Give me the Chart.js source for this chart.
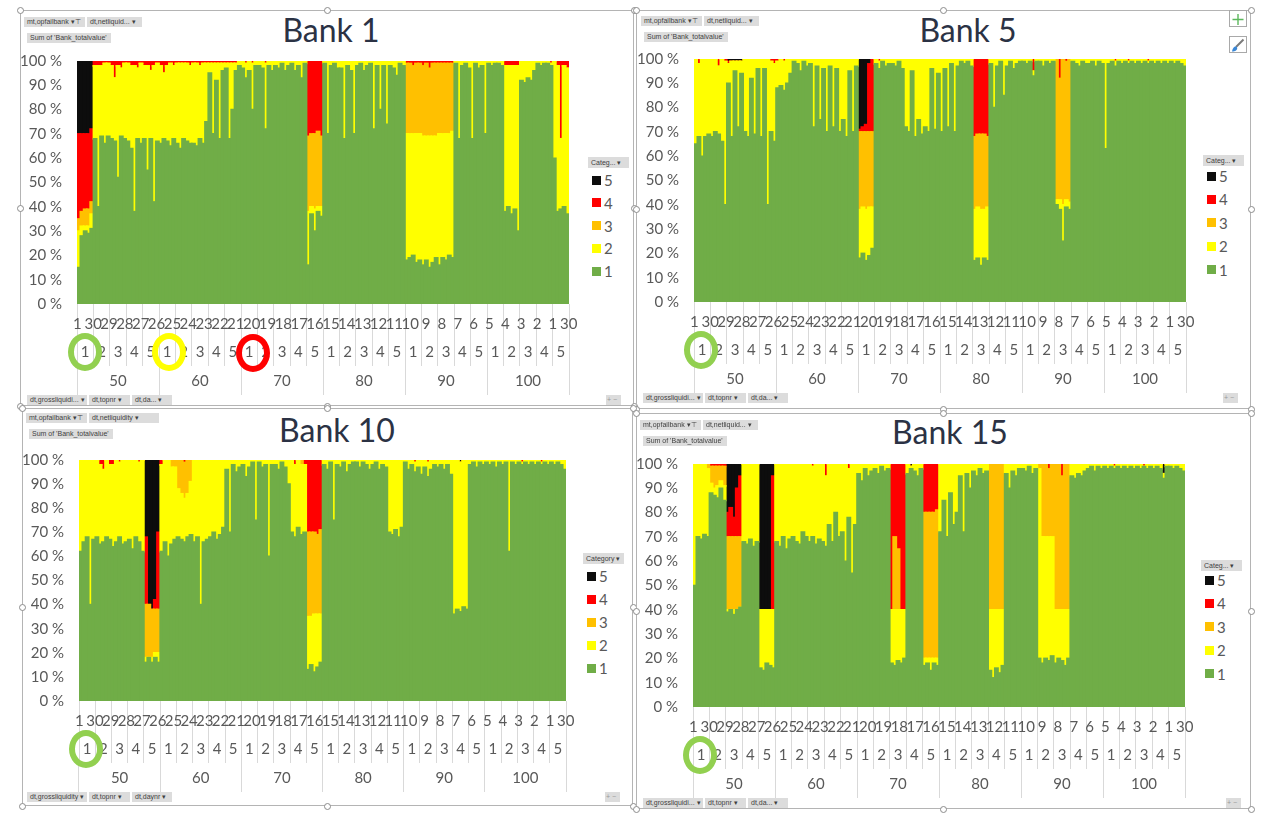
<!DOCTYPE html>
<html>
<head>
<meta charset="utf-8">
<script src="https://cdn.jsdelivr.net/npm/chart.js@4.4.1/dist/chart.umd.min.js"></script>
<style>
  html,body{margin:0;padding:0;background:#fff;}
  body{width:1261px;height:813px;position:relative;overflow:hidden;font-family:Lato,"Open Sans",sans-serif;}
  .frame{position:absolute;border:1px solid #b4b4b4;box-sizing:border-box;}
  .handle{position:absolute;width:7px;height:7px;border-radius:50%;background:#fff;border:1px solid #8c8c8c;box-sizing:border-box;}
  .title{position:absolute;width:240px;height:40px;line-height:40px;text-align:center;font-size:32px;color:#2b3244;font-family:Lato,sans-serif;}
  .btn{position:absolute;height:10px;line-height:10px;background:#dcdcdc;color:#404040;font-family:"Liberation Sans",Arial,sans-serif;font-size:7px;padding:0 3px;white-space:nowrap;box-sizing:border-box;}
  .cv{position:absolute;}
  .lg-item{position:absolute;height:18px;line-height:18px;font-size:15px;color:#595959;font-family:Lato,sans-serif;}
  .lg-box{position:absolute;width:9px;height:9px;}
  .ring{position:absolute;border-radius:50%;box-sizing:border-box;}
  .icon{position:absolute;width:18px;height:17px;border:1px solid #a9a9a9;background:#fff;box-sizing:border-box;}
</style>
</head>
<body>
<script>
// ---------------- data ----------------
const seriesNames  = ['1','2','3','4','5'];
const seriesColors = ['#70AD47','#FFFF00','#FFC000','#FF0000','#0D0D0D'];
const outerLabels  = ['50','60','70','80','90','100'];
const midLabels    = ['1','2','3','4','5'];
const dayLabels    = ['1','2','3','4','5','6','7','8','9','10','11','12','13','14','15','16','17','18','19','20','21','22','23','24','25','26','27','28','29','30'];
const barsPerGroup = 5;   // sampled bars read per middle-level group
const dayLabelStep = 29;  // every 29th day label is shown (as in the reference)

// Bank 1 (percent per sampled bar)
const b1Green = [
 15,28,30,29,31, 68,40,69,66,69, 68,67,52,69,68, 67,64,38,68,66, 68,55,68,42,67,
 66,68,67,65,68, 66,64,68,67,66, 66,65,68,66,75, 95,70,92,68,96, 97,68,80,96,98,
 97,93,96,80,98, 98,97,72,98,96, 98,97,99,96,98, 99,96,98,93,99, 16,37,30,38,36,
 99,70,98,99,97, 97,68,98,96,70, 98,99,96,98,99, 72,98,80,98,74, 98,97,94,99,98,
 18,19,20,17,18, 16,18,15,17,19, 16,19,18,20,19, 99,68,98,99,97, 68,99,97,98,70,
 99,98,99,99,98, 38,40,37,39,30, 92,91,93,92,96, 99,98,99,99,98, 60,38,39,40,37];
const b1Yellow = [
 15,4,2,3,6, 30,58,29,33,30, 30,26,46,28,31, 32,34,60,29,33, 30,43,28,56,32,
 32,27,31,34,30, 33,35,31,32,32, 33,34,30,33,24, 4,29,7,31,3, 2,31,19,3,2,
 3,6,4,19,2, 2,3,27,2,4, 2,3,1,4,2, 1,4,2,7,1, 22,3,9,2,4,
 1,30,2,1,3, 3,32,2,4,30, 2,1,4,2,1, 28,2,20,2,26, 2,3,6,1,2,
 52,51,50,53,52, 53,51,54,52,50, 54,51,52,50,52, 1,32,2,1,3, 32,1,3,2,30,
 1,2,1,1,2, 60,58,61,59,68, 8,9,7,8,4, 1,2,1,1,1, 40,60,29,58,60];
const b1Orange = [
 5,6,7,7,5, 0,0,0,0,0, 0,0,0,0,0, 0,0,0,0,0, 0,0,0,0,0,
 0,0,0,0,0, 0,0,0,0,0, 0,0,0,0,0, 0,0,0,0,0, 0,0,0,0,0,
 0,0,0,0,0, 0,0,0,0,0, 0,0,0,0,0, 0,0,0,0,0, 31,30,31,31,29,
 0,0,0,0,0, 0,0,0,0,0, 0,0,0,0,0, 0,0,0,0,0, 0,0,0,0,0,
 29,29,28,29,29, 29,30,28,30,30, 29,29,29,29,28, 0,0,0,0,0, 0,0,0,0,0,
 0,0,0,0,0, 0,0,0,0,0, 0,0,0,0,0, 0,0,0,0,0, 0,0,0,0,0];
const b1Red = [
 35,32,31,31,30, 2,2,2,1,1, 2,7,2,3,1, 1,2,2,3,1, 2,2,4,2,1,
 2,5,2,1,2, 1,1,1,1,2, 1,1,2,1,1, 1,1,1,1,1, 1,1,1,1,0,
 0,1,0,1,0, 0,0,1,0,0, 0,0,0,0,0, 0,0,0,0,0, 31,30,30,29,31,
 0,0,0,0,0, 0,0,0,0,0, 0,0,0,0,0, 0,0,0,0,0, 0,0,0,0,0,
 1,1,2,1,1, 2,1,3,1,1, 1,1,1,1,1, 0,0,0,0,0, 0,0,0,0,0,
 0,0,0,0,0, 2,2,2,2,2, 0,0,0,0,0, 0,0,0,0,1, 0,2,32,2,3];
const b1Black = [
 30,30,30,30,28, 0,0,0,0,0, 0,0,0,0,0, 0,0,0,0,0, 0,0,0,0,0,
 0,0,0,0,0, 0,0,0,0,0, 0,0,0,0,0, 0,0,0,0,0, 0,0,0,0,0,
 0,0,0,0,0, 0,0,0,0,0, 0,0,0,0,0, 0,0,0,0,0, 0,0,0,0,0,
 0,0,0,0,0, 0,0,0,0,0, 0,0,0,0,0, 0,0,0,0,0, 0,0,0,0,0,
 0,0,0,0,0, 0,0,0,0,0, 0,0,0,0,0, 0,0,0,0,0, 0,0,0,0,0,
 0,0,0,0,0, 0,0,0,0,0, 0,0,0,0,0, 0,0,0,0,0, 0,0,0,0,0];

// Bank 5
const b5Green = [
 65,68,60,68,69, 68,70,69,66,40, 90,68,95,72,94, 70,68,92,69,96, 68,96,40,70,66,
 88,89,87,90,94, 99,98,95,99,97, 98,72,97,75,96, 70,97,72,96,70, 75,68,95,70,97,
 18,20,17,19,22, 98,96,99,97,98, 98,97,99,96,72, 70,95,68,75,69, 72,70,96,71,94,
 70,96,72,98,70, 97,99,98,99,97, 17,18,15,18,17, 98,80,97,99,85, 97,99,96,98,99,
 99,98,99,93,99, 99,97,99,98,99, 40,38,25,39,38, 99,98,97,99,98, 98,99,97,99,98,
 63,98,99,97,99, 98,99,98,99,98, 99,98,99,98,99, 98,99,98,99,98, 99,98,99,98,97];
const b5Yellow = [
 35,30,40,32,31, 32,30,28,34,59, 8,31,4,27,5, 30,32,8,31,4, 32,4,60,29,32,
 11,11,12,10,6, 1,2,5,1,3, 2,28,3,25,4, 30,3,28,4,30, 25,32,5,30,3,
 20,19,21,20,17, 2,3,1,3,2, 2,3,1,4,28, 30,5,32,25,31, 28,30,4,29,6,
 30,4,28,2,30, 3,1,2,1,3, 21,21,23,20,22, 2,20,3,1,15, 3,1,4,2,1,
 1,2,1,2,1, 1,3,1,2,1, 2,4,15,3,3, 1,2,3,1,2, 2,1,3,1,2,
 37,2,1,2,1, 2,1,1,1,2, 1,2,1,1,1, 2,1,2,1,2, 1,2,1,2,3];
const b5Orange = [
 0,0,0,0,0, 0,0,0,0,0, 0,0,0,0,0, 0,0,0,0,0, 0,0,0,0,0,
 0,0,0,0,0, 0,0,0,0,0, 0,0,0,0,0, 0,0,0,0,0, 0,0,0,0,0,
 32,31,32,31,31, 0,0,0,0,0, 0,0,0,0,0, 0,0,0,0,0, 0,0,0,0,0,
 0,0,0,0,0, 0,0,0,0,0, 30,30,31,31,29, 0,0,0,0,0, 0,0,0,0,0,
 0,0,0,0,0, 0,0,0,0,0, 58,50,60,57,59, 0,0,0,0,0, 0,0,0,0,0,
 0,0,0,0,0, 0,0,0,0,0, 0,0,0,0,0, 0,0,0,0,0, 0,0,0,0,0];
const b5Red = [
 0,2,0,0,0, 0,0,3,0,1, 1,0,0,0,0, 0,0,0,0,0, 0,0,0,1,2,
 1,0,1,0,0, 0,0,0,0,0, 0,0,0,0,0, 0,0,0,0,0, 0,0,0,0,0,
 1,2,3,28,30, 0,1,0,0,0, 0,0,0,0,0, 0,0,0,0,0, 0,0,0,0,0,
 0,0,0,0,0, 0,0,0,0,0, 32,31,31,31,32, 0,0,0,0,0, 0,0,0,0,0,
 0,0,0,5,0, 0,0,0,0,0, 0,8,0,1,0, 0,0,0,0,0, 0,0,0,0,0,
 0,0,0,1,0, 0,0,1,0,0, 0,0,0,1,0, 0,0,0,0,0, 0,0,0,0,0];
const b5Black = [
 0,0,0,0,0, 0,0,0,0,0, 1,1,1,1,1, 0,0,0,0,0, 0,0,0,0,0,
 0,0,0,0,0, 0,0,0,0,0, 0,0,0,0,0, 0,0,0,0,0, 0,0,0,0,0,
 29,28,27,2,0, 0,0,0,0,0, 0,0,0,0,0, 0,0,0,0,0, 0,0,0,0,0,
 0,0,0,0,0, 0,0,0,0,0, 0,0,0,0,0, 0,0,0,0,0, 0,0,0,0,0,
 0,0,0,0,0, 0,0,0,0,0, 0,0,0,0,0, 0,0,0,0,0, 0,0,0,0,0,
 0,0,0,0,0, 0,0,0,0,0, 0,0,0,0,0, 0,0,0,0,0, 0,0,0,0,0];

// Bank 10
const b10Green = [
 62,66,68,40,67, 68,65,66,68,67, 64,66,68,65,66, 67,63,68,66,62, 16,18,16,18,16,
 62,66,60,65,67, 68,67,66,68,69, 66,68,40,66,67, 68,70,67,69,72, 96,70,98,95,97,
 98,93,97,99,75, 99,97,98,60,98, 98,96,99,97,90, 70,68,72,69,70, 13,15,12,14,16,
 98,96,99,75,98, 97,99,95,98,99, 99,97,99,98,96, 98,99,96,98,97, 70,69,71,68,72,
 99,96,98,95,97, 94,97,93,96,98, 97,98,96,98,94, 36,38,37,39,38, 98,99,97,99,98,
 99,98,99,97,99, 98,99,62,99,98, 99,98,99,98,99, 98,99,98,99,98, 99,98,99,98,96];
const b10Yellow = [
 38,34,32,60,33, 32,33,30,32,31, 34,34,31,35,34, 33,37,32,33,38, 2,0,2,2,4,
 36,34,40,32,30, 20,19,18,18,22, 34,32,60,34,33, 32,30,33,31,28, 4,30,2,5,3,
 2,7,3,1,25, 1,3,2,40,2, 2,4,1,3,10, 30,30,28,29,28, 22,20,24,22,20,
 2,4,1,25,2, 3,1,5,2,1, 1,3,1,2,4, 2,1,4,2,3, 30,31,29,32,28,
 1,4,2,4,3, 6,3,6,4,2, 3,2,4,2,6, 64,62,62,61,62, 2,1,3,1,2,
 1,2,1,3,1, 2,1,38,1,2, 1,1,1,2,1, 2,1,1,1,2, 1,2,1,2,4];
const b10Orange = [
 0,0,0,0,0, 0,0,0,0,0, 0,0,0,0,0, 0,0,0,0,0, 22,22,20,18,18,
 0,0,0,3,3, 12,14,15,14,9, 0,0,0,0,0, 0,0,0,0,0, 0,0,0,0,0,
 0,0,0,0,0, 0,0,0,0,0, 0,0,0,0,0, 0,0,0,2,0, 35,35,34,33,35,
 0,0,0,0,0, 0,0,0,0,0, 0,0,0,0,0, 0,0,0,0,0, 0,0,0,0,0,
 0,0,0,0,0, 0,0,0,0,0, 0,0,0,0,0, 0,0,0,0,0, 0,0,0,0,0,
 0,0,0,0,0, 0,0,0,0,0, 0,0,0,0,0, 0,0,0,0,0, 0,0,0,0,0];
const b10Red = [
 0,0,0,0,0, 0,2,4,0,2, 2,0,1,0,0, 0,0,0,1,0, 28,0,0,4,32,
 2,0,0,0,0, 0,0,1,0,0, 0,0,0,0,0, 0,0,0,0,0, 0,0,0,0,0,
 0,0,0,0,0, 0,0,0,0,0, 0,0,0,0,0, 0,2,0,0,2, 30,30,30,31,29,
 0,0,0,0,0, 0,0,0,0,0, 0,0,0,0,0, 0,0,0,0,0, 0,0,0,0,0,
 0,0,0,1,0, 0,0,1,0,0, 0,0,0,0,0, 0,0,0,0,0, 0,0,0,0,0,
 0,0,0,0,0, 0,0,0,0,0, 0,1,0,0,0, 0,0,1,0,0, 0,0,0,0,0];
const b10Black = [
 0,0,0,0,0, 0,0,0,0,0, 0,0,0,0,0, 0,0,0,0,0, 32,60,62,58,30,
 0,0,0,0,0, 0,0,0,0,0, 0,0,0,0,0, 0,0,0,0,0, 0,0,0,0,0,
 0,0,0,0,0, 0,0,0,0,0, 0,0,0,0,0, 0,0,0,0,0, 0,0,0,0,0,
 0,0,0,0,0, 0,0,0,0,0, 0,0,0,0,0, 0,0,0,0,0, 0,0,0,0,0,
 0,0,0,0,0, 0,0,0,0,0, 0,0,0,0,0, 0,0,1,0,0, 0,0,0,0,0,
 0,0,0,0,0, 0,0,0,0,0, 0,0,0,0,0, 0,0,0,0,0, 0,0,0,0,0];

// Bank 15
const b15Green = [
 50,70,69,71,70, 88,87,86,90,85, 39,40,38,40,41, 68,67,69,66,68, 16,15,18,17,16,
 68,66,70,65,69, 70,68,67,72,70, 68,70,67,69,68, 66,75,68,80,70, 72,60,78,55,75,
 96,93,98,95,97, 98,96,99,97,98, 18,17,19,18,20, 96,98,97,95,98, 17,18,15,18,17,
 72,85,70,88,75, 80,95,72,96,90, 97,95,98,96,97, 15,12,16,14,17, 96,90,97,95,98,
 98,97,99,96,98, 20,18,20,19,21, 18,20,19,17,20, 95,94,96,95,97, 98,99,97,99,98,
 99,98,99,98,99, 98,99,98,99,98, 99,98,99,98,99, 98,99,98,94,99, 99,98,99,98,97];
const b15Yellow = [
 50,30,31,29,28, 4,3,5,3,6, 1,0,2,0,0, 32,33,31,34,32, 24,25,22,23,24,
 32,34,30,35,31, 30,32,33,28,30, 32,29,33,31,32, 29,25,32,20,30, 28,40,20,45,25,
 4,7,2,5,3, 2,4,1,3,2, 22,23,21,22,20, 4,1,3,5,2, 3,2,5,2,3,
 28,15,30,12,25, 20,5,28,4,10, 3,5,2,4,3, 25,28,24,26,23, 4,10,3,5,2,
 2,3,1,4,2, 78,52,50,51,49, 22,20,21,23,20, 5,6,4,5,3, 2,1,3,1,2,
 1,2,1,1,1, 2,1,2,1,2, 1,2,0,2,1, 2,1,2,2,1, 1,2,1,2,3];
const b15Orange = [
 0,0,0,0,2, 7,9,8,6,8, 30,30,30,30,29, 0,0,0,0,0, 0,0,0,0,0,
 0,0,0,0,0, 0,0,0,0,0, 0,0,0,0,0, 0,0,0,0,0, 0,0,0,0,0,
 0,0,0,0,0, 0,0,0,0,0, 0,30,25,0,0, 0,0,0,0,0, 60,60,60,60,61,
 0,0,0,0,0, 0,0,0,0,0, 0,0,0,0,0, 60,60,60,60,60, 0,0,0,0,0,
 0,0,0,0,0, 2,30,30,28,30, 60,60,55,60,60, 0,0,0,0,0, 0,0,0,0,0,
 0,0,0,0,0, 0,0,0,0,0, 0,0,0,0,0, 0,0,0,0,0, 0,0,0,0,0];
const b15Red = [
 0,0,0,0,0, 1,1,1,1,1, 10,12,8,20,25, 0,0,0,0,0, 0,0,0,0,55,
 0,0,0,0,0, 0,0,0,0,0, 0,1,0,0,0, 5,0,0,0,0, 0,0,2,0,0,
 0,0,0,0,0, 0,0,0,0,0, 60,30,35,60,60, 0,0,0,0,0, 20,20,20,20,19,
 0,0,0,0,0, 0,0,0,0,0, 0,0,0,0,0, 0,0,0,0,0, 0,0,0,0,0,
 0,0,0,0,0, 0,0,0,2,0, 0,0,5,0,0, 0,0,0,0,0, 0,0,0,0,0,
 0,0,0,1,0, 0,0,0,0,0, 0,0,1,0,0, 0,0,0,0,0, 0,0,0,0,0];
const b15Black = [
 0,0,0,0,0, 0,0,0,0,0, 20,18,22,10,5, 0,0,0,0,0, 60,60,60,60,5,
 0,0,0,0,0, 0,0,0,0,0, 0,0,0,0,0, 0,0,0,0,0, 0,0,0,0,0,
 0,0,0,0,0, 0,0,0,0,0, 0,0,0,0,0, 0,1,0,0,0, 0,0,0,0,0,
 0,0,0,0,0, 0,0,0,0,0, 0,0,0,0,0, 0,0,0,0,0, 0,0,0,0,0,
 0,0,0,0,0, 0,0,0,0,0, 0,0,0,0,0, 0,0,0,0,0, 0,0,0,0,0,
 0,0,0,0,0, 0,0,0,0,0, 0,0,0,0,0, 0,0,0,4,0, 0,0,0,0,0];

// ---------------- layout (positions / styles only) ----------------
const panels = [
  {title:'Bank 1',  series:[b1Green,b1Yellow,b1Orange,b1Red,b1Black],
   frame:[20,10,614,396], plot:[77,57,569,304], titleC:[331,30],
   topBtn:[24,17], botBtn:[27,395], pm:[606,395],
   legend:{x:588,y:157,first:180,step:22.8,btn:'Categ...'},
   rings:[[85,352,'#92D050'],[169,352,'#FFFF00'],[253,353,'#FF0000']]},
  {title:'Bank 5',  series:[b5Green,b5Yellow,b5Orange,b5Red,b5Black],
   frame:[636,10,615,399], plot:[694,55,1186,302], titleC:[968,30],
   topBtn:[641,16], botBtn:[643,393], pm:[1223,393],
   legend:{x:1203,y:155,first:176,step:23.4,btn:'Categ...'},
   rings:[[701,350,'#92D050']], icons:true},
  {title:'Bank 10', series:[b10Green,b10Yellow,b10Orange,b10Red,b10Black],
   frame:[22,408,611,398], plot:[79,456,566,701], titleC:[337,430],
   topBtn:[26,413], botBtn:[27,792], pm:[605,792],
   legend:{x:583,y:553,first:576,step:23,btn:'Category'},
   rings:[[86,749,'#92D050']], longNames:true},
  {title:'Bank 15', series:[b15Green,b15Yellow,b15Orange,b15Red,b15Black],
   frame:[636,413,615,396], plot:[693,460,1185,707], titleC:[950,432],
   topBtn:[640,420], botBtn:[643,798], pm:[1226,798],
   legend:{x:1201,y:560,first:580,step:23.4,btn:'Categ...'},
   rings:[[700,755,'#92D050']]}
];

const AXIS_COLOR = '#595959';
const SEP_COLOR = '#d9d9d9';
const Y_W = 56, PAD_T = 12, PAD_R = 8, DAY_H = 34, MID_H = 28, OUT_H = 29, PAD_B = 2;

function el(cls, css, text){
  const d = document.createElement('div');
  d.className = cls;
  Object.assign(d.style, css);
  if (text !== undefined) d.textContent = text;
  document.body.appendChild(d);
  return d;
}

// labels the library needs, built from the small arrays above
const barLabels = [];
outerLabels.forEach(o => midLabels.forEach(m => { for (let k = 0; k < barsPerGroup; k++) barLabels.push(o + '/' + m + '/' + k); }));
const midAxisLabels = [];
outerLabels.forEach(() => midLabels.forEach(m => midAxisLabels.push(m)));
const dayAxisLabels = [];
midAxisLabels.forEach(() => dayLabels.forEach(d => dayAxisLabels.push(d)));

Chart.defaults.font.family = 'Lato';

panels.forEach((p) => {
  const [fx, fy, fw, fh] = p.frame;
  el('frame', {left:fx+'px', top:fy+'px', width:fw+'px', height:fh+'px'});
  [[fx,fy],[fx+fw/2,fy],[fx+fw,fy],[fx,fy+fh/2],[fx+fw,fy+fh/2],[fx,fy+fh],[fx+fw/2,fy+fh],[fx+fw,fy+fh]].forEach(([hx,hy]) =>
    el('handle', {left:(hx-3.5)+'px', top:(hy-3.5)+'px'}));

  el('title', {left:(p.titleC[0]-120)+'px', top:(p.titleC[1]-20)+'px'}, p.title);

  const [tbx, tby] = p.topBtn;
  el('btn', {left:tbx+'px', top:tby+'px', width:'61px'}, 'mt,opfailbank \u25BE\u22A4');
  el('btn', {left:(tbx+63)+'px', top:tby+'px', width:(p.longNames?'70px':'55px')}, p.longNames ? 'dt,netliquidity    \u25BE' : 'dt,netliquid...  \u25BE');
  el('btn', {left:(tbx+3)+'px', top:(tby+16)+'px', width:'84px'}, "Sum of 'Bank_totalvalue'");
  const [bbx, bby] = p.botBtn;
  el('btn', {left:bbx+'px', top:bby+'px', width:'60px'}, p.longNames ? 'dt,grossliquidity  \u25BE' : 'dt,grossliquidi...  \u25BE');
  el('btn', {left:(bbx+62)+'px', top:bby+'px', width:'41px'}, 'dt,topnr  \u25BE');
  el('btn', {left:(bbx+105)+'px', top:bby+'px', width:'40px'}, p.longNames ? 'dt,daynr  \u25BE' : 'dt,da...  \u25BE');
  el('btn', {left:p.pm[0]+'px', top:p.pm[1]+'px', width:'15px', padding:'0 1px', color:'#999'}, '+ \u2212');

  const L = p.legend;
  el('btn', {left:L.x+'px', top:L.y+'px', width:'41px', height:'11px', lineHeight:'11px'}, L.btn + '  \u25BE');
  for (let i = 0; i < seriesNames.length; i++) {
    const si = seriesNames.length - 1 - i;
    const cy = L.first + i * L.step;
    el('lg-box', {left:(L.x+4)+'px', top:(cy-4.5)+'px', background:seriesColors[si]});
    el('lg-item', {left:(L.x+16)+'px', top:(cy-9)+'px'}, seriesNames[si]);
  }

  const [pl, pt, pr, pb] = p.plot;
  const cx = pl - Y_W, cy = pt - PAD_T;
  const cw = (pr + PAD_R) - cx;
  const ch = PAD_T + (pb - pt) + DAY_H + MID_H + OUT_H + PAD_B;
  const canvas = document.createElement('canvas');
  canvas.className = 'cv';
  canvas.width = cw; canvas.height = ch;
  canvas.style.left = cx + 'px'; canvas.style.top = cy + 'px';
  canvas.style.width = cw + 'px'; canvas.style.height = ch + 'px';
  document.body.appendChild(canvas);

  const tickFont = {family:'Lato', size:15};
  const zeroPad = s => { s.paddingLeft = 0; s.paddingRight = 0; };

  new Chart(canvas.getContext('2d'), {
    type: 'bar',
    data: {
      labels: barLabels,
      datasets: p.series.map((arr, i) => ({
        label: seriesNames[i], data: arr, backgroundColor: seriesColors[i],
        borderWidth: 0, borderSkipped: false, inflateAmount: 0.8,
        barPercentage: 1, categoryPercentage: 1, xAxisID: 'x', yAxisID: 'y'
      }))
    },
    options: {
      responsive: false, maintainAspectRatio: false, animation: false, events: [],
      devicePixelRatio: 1,
      layout: {padding: {top: PAD_T, right: PAD_R, left: 0, bottom: PAD_B}},
      plugins: {legend: {display: false}, tooltip: {enabled: false}},
      scales: {
        x: {type: 'category', display: false, stacked: true, offset: true},
        y: {stacked: true, min: 0, max: 100, position: 'left',
            ticks: {stepSize: 10, callback: v => v + ' %', font: tickFont, color: AXIS_COLOR, padding: 7},
            grid: {display: false}, border: {display: false},
            afterFit: s => { s.width = Y_W; }},
        xDay: {type: 'category', position: 'bottom', labels: dayAxisLabels, offset: true, weight: 1,
            grid: {offset: true, drawOnChartArea: false, drawTicks: true, tickLength: DAY_H,
                   color: c => (c.index === undefined || c.index % dayLabels.length === 0) ? SEP_COLOR : 'rgba(0,0,0,0)'},
            border: {display: false},
            ticks: {autoSkip: false, maxRotation: 0, minRotation: 0, padding: -23, font: tickFont, color: AXIS_COLOR,
                    callback: function(v, i){ return i % dayLabelStep === 0 ? this.getLabelForValue(v) : ''; }},
            afterFit: s => { s.height = DAY_H; zeroPad(s); }},
        xMid: {type: 'category', position: 'bottom', labels: midAxisLabels, offset: true, weight: 2,
            grid: {offset: true, drawOnChartArea: false, drawTicks: true, tickLength: MID_H, color: SEP_COLOR},
            border: {display: false},
            ticks: {autoSkip: false, maxRotation: 0, minRotation: 0, padding: -23, font: tickFont, color: AXIS_COLOR},
            afterFit: s => { s.height = MID_H; zeroPad(s); }},
        xOut: {type: 'category', position: 'bottom', labels: outerLabels, offset: true, weight: 3,
            grid: {offset: true, drawOnChartArea: false, drawTicks: true, tickLength: OUT_H, color: SEP_COLOR},
            border: {display: false},
            ticks: {autoSkip: false, maxRotation: 0, minRotation: 0, padding: -23, font: tickFont, color: AXIS_COLOR},
            afterFit: s => { s.height = OUT_H; zeroPad(s); }}
      }
    }
  });

  (p.rings || []).forEach(([rx, ry, col]) =>
    el('ring', {left:(rx-17)+'px', top:(ry-19)+'px', width:'34px', height:'38px', border:'6px solid '+col}));

  if (p.icons) {
    const a = el('icon', {left:'1229px', top:'10px'});
    a.innerHTML = '<svg width="16" height="15"><path d="M8 2V13M2.5 7.5H13.5" stroke="#5cb85c" stroke-width="1.4"/></svg>';
    const b = el('icon', {left:'1229px', top:'36px'});
    b.innerHTML = '<svg width="16" height="15"><path d="M13.5 1.5L6 9" stroke="#7a7a7a" stroke-width="2"/><path d="M6.5 8.5C3.5 8 2.5 11 2 13.5C5 13.5 8 12 7 9.5Z" fill="#3a87d6"/></svg>';
  }
});
</script>
</body>
</html>
